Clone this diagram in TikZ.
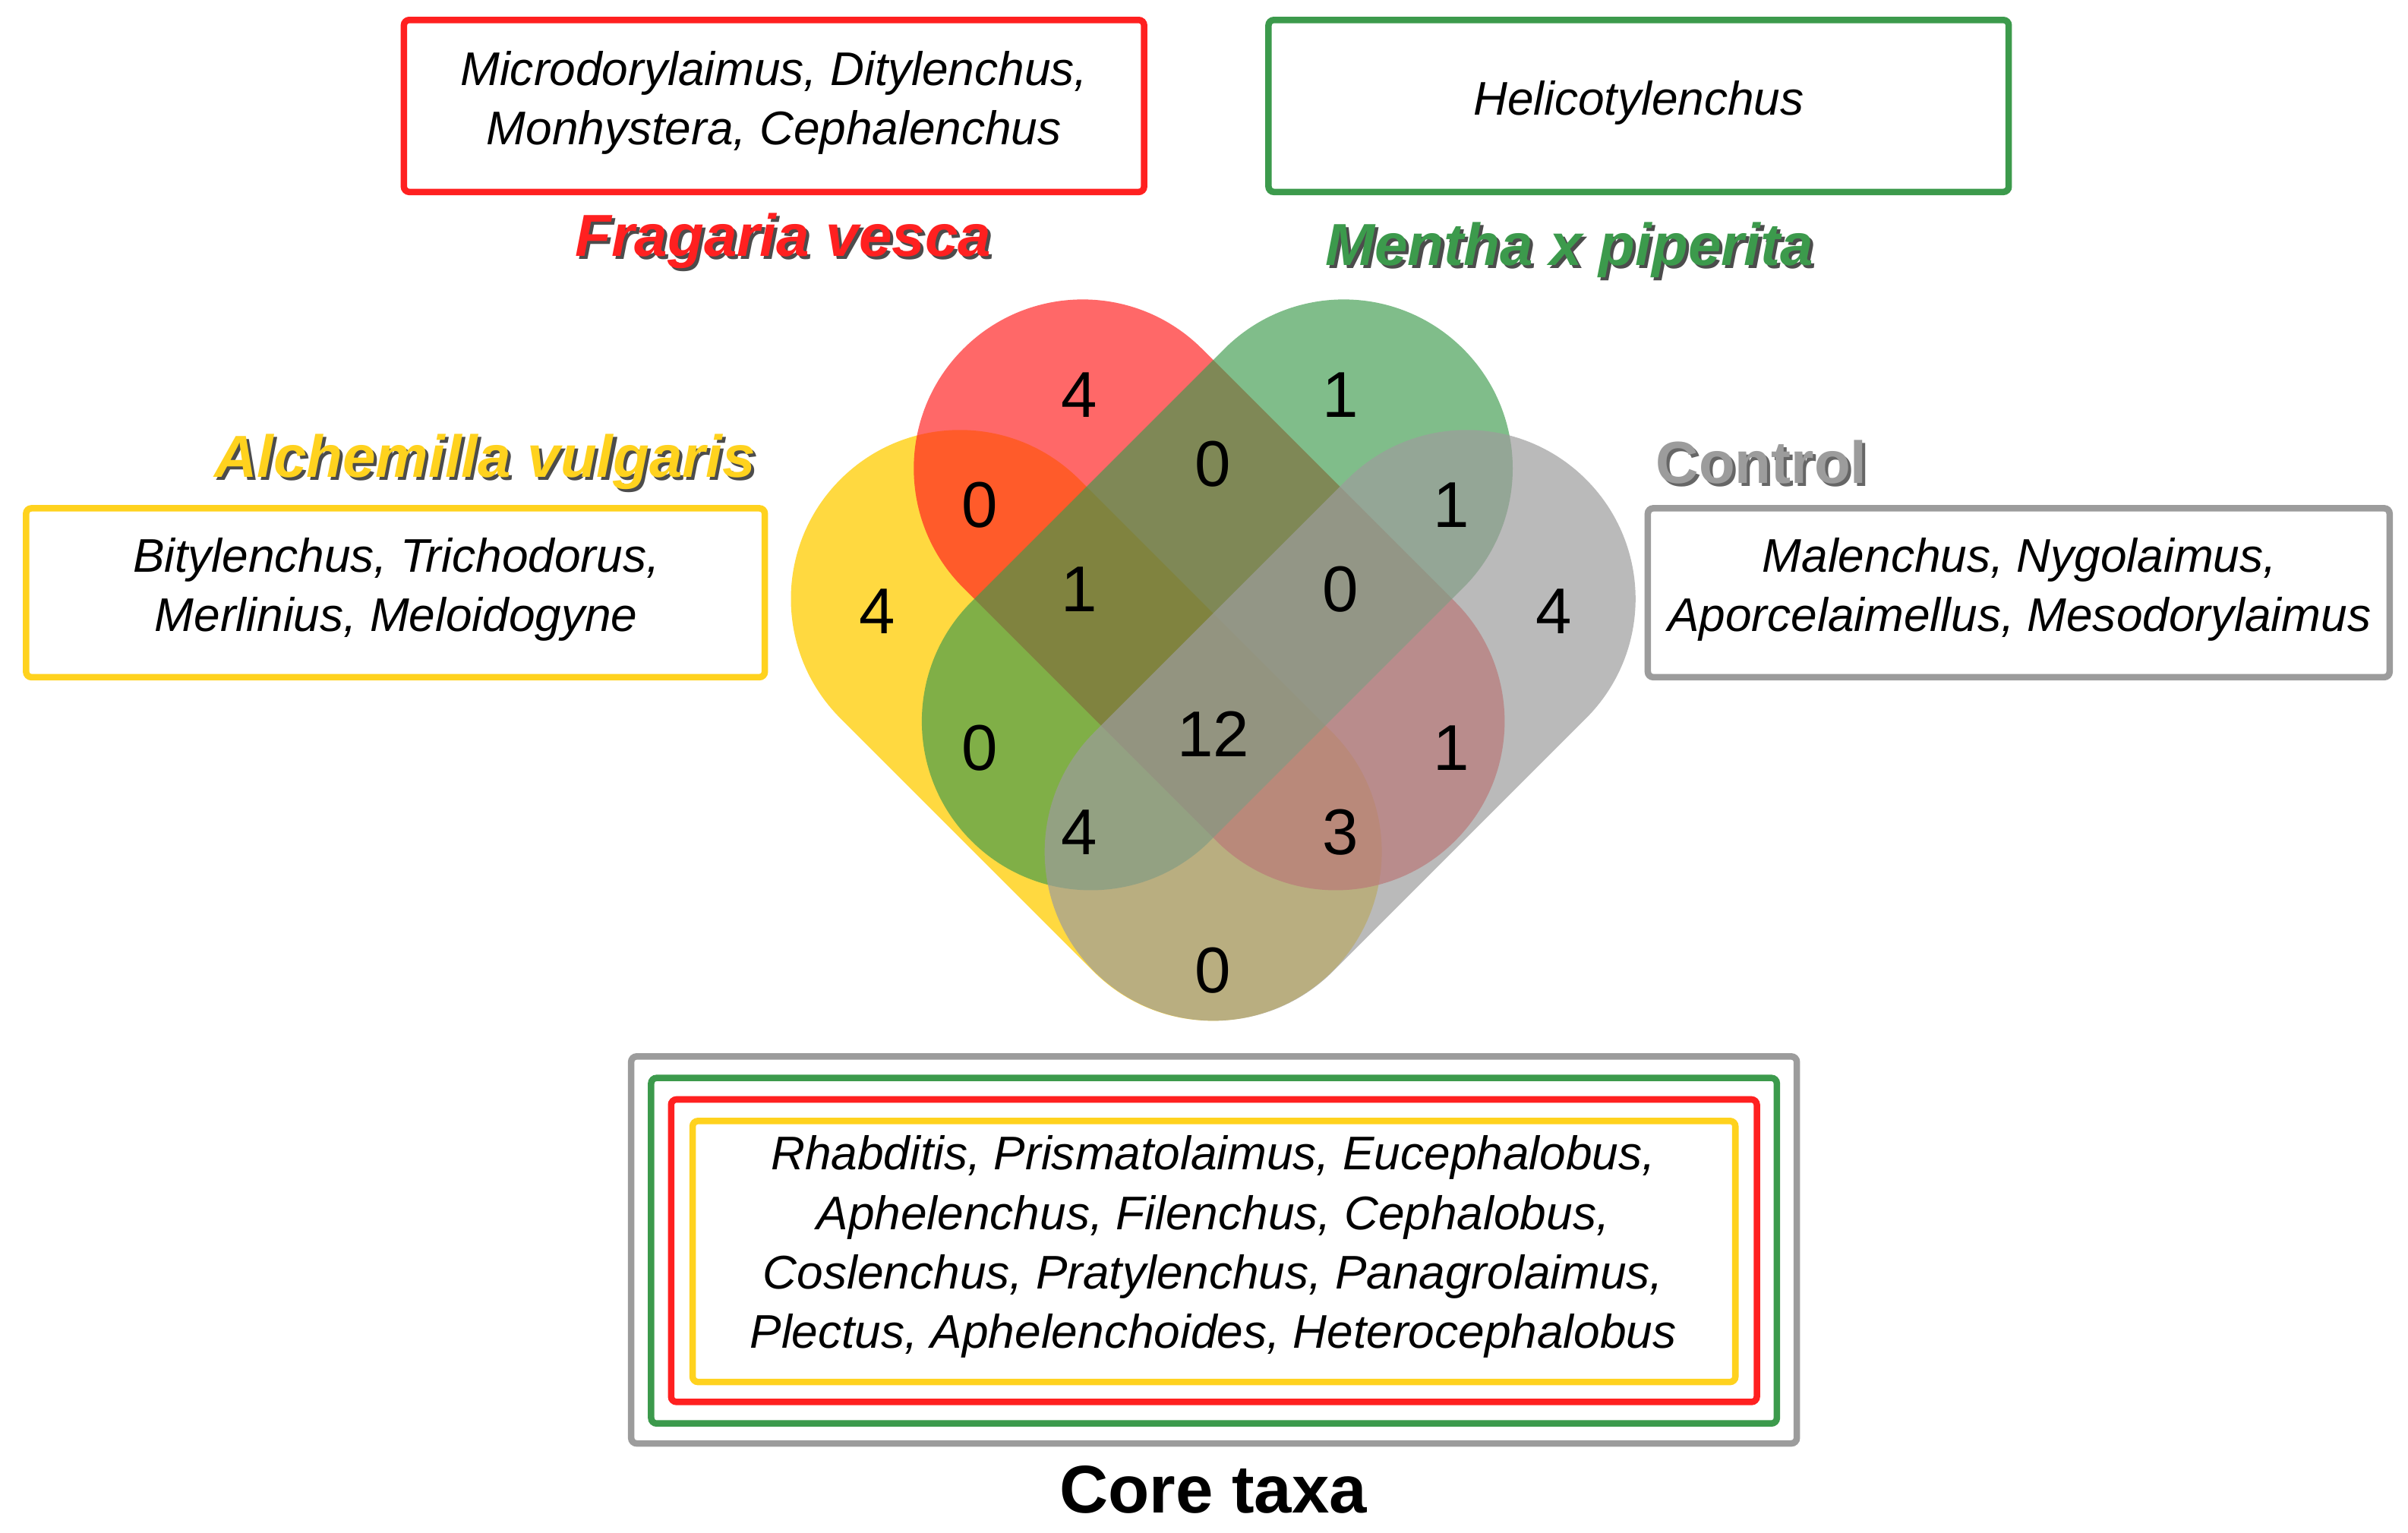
\documentclass[tikz,border=0pt]{standalone}
\usepackage{fontspec}
\setmainfont{Liberation Sans}
\begin{document}
\begin{tikzpicture}[x=0.02cm,y=0.02cm,
  num/.style={font=\fontsize{24}{28}\selectfont},
  lab/.style={font=\fontsize{17.5}{22}\selectfont\itshape,align=center},
  ttl/.style={font=\fontsize{22}{26}\selectfont\bfseries\itshape},
  box/.style={line width=2.4pt,rounded corners=2pt}]
\useasboundingbox (0,0) rectangle (1568,-998.3);
\definecolor{cy}{HTML}{FFD21E}
\definecolor{cr}{HTML}{FF2020}
\definecolor{cg}{HTML}{3C9A4C}
\definecolor{ck}{HTML}{9C9C9C}
\def\stad#1#2#3#4{\begin{scope}[shift={(#1)},rotate=#2,transparency group,opacity=#4]
 \fill[#3] (0,-110) -- (233,-110) arc(-90:90:110) -- (0,110) arc(90:270:110) -- cycle;
\end{scope}}
\stad{625,-390}{-45}{cy}{0.85}
\stad{705,-305}{-45}{cr}{0.68}
\stad{875,-305}{-135}{cg}{0.65}
\stad{955,-390}{-135}{ck}{0.7}
\node[num] (n1) at (703,-257) {4};
\node[num] (n2) at (873,-257) {1};
\node[num] (n3) at (638,-329) {0};
\node[num] (n4) at (790,-302) {0};
\node[num] (n5) at (945,-329) {1};
\node[num] (n6) at (571,-398) {4};
\node[num] (n7) at (703,-384) {1};
\node[num] (n8) at (873,-384) {0};
\node[num] (n9) at (1012,-398) {4};
\node[num] (n10) at (638,-487) {0};
\node[num] (n11) at (790,-478) {12};
\node[num] (n12) at (945,-487) {1};
\node[num] (n13) at (703,-542) {4};
\node[num] (n14) at (873,-542) {3};
\node[num] (n15) at (790,-632) {0};
% boxes
\draw[box,cr] (263,-13) rectangle (745,-125);
\node[lab] (tr) at (504,-67) {Microdorylaimus, Ditylenchus,\\Monhystera, Cephalenchus};
\draw[box,cg] (826,-13) rectangle (1308,-125);
\node[lab] (tg) at (1067,-67) {Helicotylenchus};
\draw[box,cy] (17,-331) rectangle (498,-441);
\node[lab] (ty) at (258,-384) {Bitylenchus, Trichodorus,\\Merlinius, Meloidogyne};
\draw[box,ck] (1073,-331) rectangle (1556,-441);
\node[lab] (tk) at (1315,-384) {Malenchus, Nygolaimus,\\Aporcelaimellus, Mesodorylaimus};
\draw[box,ck] (411,-688) rectangle (1170,-940);
\draw[box,cg] (424,-702) rectangle (1157,-927);
\draw[box,cr] (437,-716) rectangle (1144,-913);
\draw[box,cy] (451,-730) rectangle (1130,-900);
\node[lab] (tc) at (790,-812) {Rhabditis, Prismatolaimus, Eucephalobus,\\Aphelenchus, Filenchus, Cephalobus,\\Coslenchus, Pratylenchus, Panagrolaimus,\\Plectus, Aphelenchoides, Heterocephalobus};
% titles
\node[ttl,black!70] at (512,-159) {Fragaria vesca};
\node[ttl,cr] (fv) at (510,-157) {Fragaria vesca};
\node[ttl,black!70] at (1024,-165) {Mentha x piperita};
\node[ttl,cg] (mp) at (1022,-163) {Mentha x piperita};
\node[ttl,black!70,anchor=east] at (500,-303) {Alchemilla vulgaris};
\node[ttl,cy,anchor=east] (av) at (498,-301) {Alchemilla vulgaris};
\node[ttl,black!60,font=\fontsize{22}{26}\selectfont\bfseries] at (1149,-303) {Control};
\node[ttl,ck,font=\fontsize{22}{26}\selectfont\bfseries] (co) at (1147,-301) {Control};
\node[font=\fontsize{25}{28}\selectfont\bfseries] (ct) at (790,-970) {Core taxa};
\end{tikzpicture}
\end{document}
